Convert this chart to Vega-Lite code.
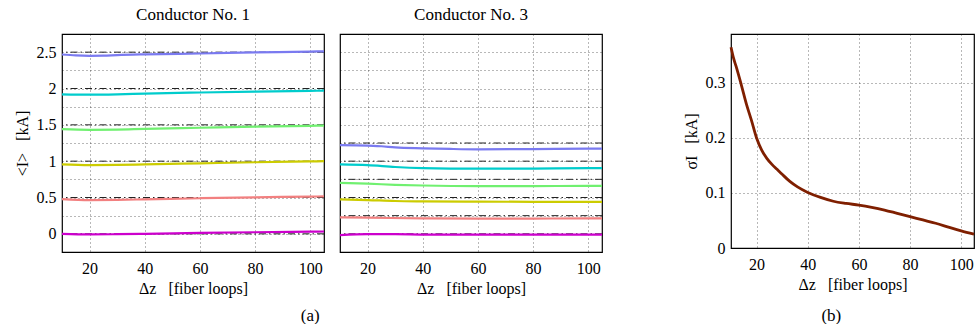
{
  "$schema": "https://vega.github.io/schema/vega-lite/v6.json",
  "background": "white",
  "padding": {"left": 13, "top": 5, "right": 0, "bottom": 0},
  "config": {
    "font": "Times New Roman, Liberation Serif, DejaVu Serif, serif",
    "view": {"stroke": "#000", "strokeWidth": 1.2},
    "style": {
      "guide-label": {"font": "Times New Roman, Liberation Serif, DejaVu Serif, serif", "fontSize": 16, "fill": "#000"},
      "guide-title": {"font": "Times New Roman, Liberation Serif, DejaVu Serif, serif", "fontSize": 16, "fill": "#000", "fontWeight": "normal"},
      "group-title": {"font": "Times New Roman, Liberation Serif, DejaVu Serif, serif", "fontSize": 17, "fill": "#000", "fontWeight": "normal"}
    },
    "axis": {
      "labelFont": "Times New Roman, Liberation Serif, DejaVu Serif, serif", "labelFontSize": 16, "labelColor": "#000",
      "titleFont": "Times New Roman, Liberation Serif, DejaVu Serif, serif", "titleFontSize": 16, "titleFontWeight": "normal", "titleColor": "#000",
      "domain": false, "ticks": false, "grid": true, "gridColor": "#000", "gridDash": [1, 3],
      "gridWidth": 0.8, "gridOpacity": 0.7, "labelPadding": 6, "titlePadding": 6, "labelOverlap": false
    },
    "axisX": {"labelPadding": 8, "titlePadding": 4},
    "title": {"font": "Times New Roman, Liberation Serif, DejaVu Serif, serif", "fontSize": 17, "fontWeight": "normal", "color": "#000"}
  },
  "datasets": {
    "series": [
      {"p": 1, "s": "L6", "x": 10, "y": 2.468}, {"p": 1, "s": "L6", "x": 15, "y": 2.455}, {"p": 1, "s": "L6", "x": 20, "y": 2.450}, {"p": 1, "s": "L6", "x": 25, "y": 2.452}, {"p": 1, "s": "L6", "x": 30, "y": 2.460}, {"p": 1, "s": "L6", "x": 40, "y": 2.470}, {"p": 1, "s": "L6", "x": 60, "y": 2.482}, {"p": 1, "s": "L6", "x": 80, "y": 2.496}, {"p": 1, "s": "L6", "x": 100, "y": 2.508}, {"p": 1, "s": "L6", "x": 105, "y": 2.512},
      {"p": 1, "s": "L5", "x": 10, "y": 1.920}, {"p": 1, "s": "L5", "x": 20, "y": 1.915}, {"p": 1, "s": "L5", "x": 30, "y": 1.920}, {"p": 1, "s": "L5", "x": 40, "y": 1.930}, {"p": 1, "s": "L5", "x": 60, "y": 1.945}, {"p": 1, "s": "L5", "x": 80, "y": 1.958}, {"p": 1, "s": "L5", "x": 100, "y": 1.968}, {"p": 1, "s": "L5", "x": 105, "y": 1.970},
      {"p": 1, "s": "L4", "x": 10, "y": 1.440}, {"p": 1, "s": "L4", "x": 20, "y": 1.432}, {"p": 1, "s": "L4", "x": 30, "y": 1.435}, {"p": 1, "s": "L4", "x": 40, "y": 1.445}, {"p": 1, "s": "L4", "x": 60, "y": 1.460}, {"p": 1, "s": "L4", "x": 80, "y": 1.475}, {"p": 1, "s": "L4", "x": 100, "y": 1.487}, {"p": 1, "s": "L4", "x": 105, "y": 1.490},
      {"p": 1, "s": "L3", "x": 10, "y": 0.955}, {"p": 1, "s": "L3", "x": 20, "y": 0.945}, {"p": 1, "s": "L3", "x": 30, "y": 0.948}, {"p": 1, "s": "L3", "x": 40, "y": 0.955}, {"p": 1, "s": "L3", "x": 60, "y": 0.970}, {"p": 1, "s": "L3", "x": 80, "y": 0.985}, {"p": 1, "s": "L3", "x": 100, "y": 0.997}, {"p": 1, "s": "L3", "x": 105, "y": 1.000},
      {"p": 1, "s": "L2", "x": 10, "y": 0.478}, {"p": 1, "s": "L2", "x": 20, "y": 0.465}, {"p": 1, "s": "L2", "x": 30, "y": 0.468}, {"p": 1, "s": "L2", "x": 40, "y": 0.475}, {"p": 1, "s": "L2", "x": 60, "y": 0.490}, {"p": 1, "s": "L2", "x": 80, "y": 0.503}, {"p": 1, "s": "L2", "x": 100, "y": 0.512}, {"p": 1, "s": "L2", "x": 105, "y": 0.515},
      {"p": 1, "s": "L1", "x": 10, "y": 0.000}, {"p": 1, "s": "L1", "x": 20, "y": -0.008}, {"p": 1, "s": "L1", "x": 30, "y": -0.005}, {"p": 1, "s": "L1", "x": 40, "y": 0.000}, {"p": 1, "s": "L1", "x": 60, "y": 0.012}, {"p": 1, "s": "L1", "x": 80, "y": 0.022}, {"p": 1, "s": "L1", "x": 100, "y": 0.030}, {"p": 1, "s": "L1", "x": 105, "y": 0.032},
      {"p": 3, "s": "L6", "x": 10, "y": 1.220}, {"p": 3, "s": "L6", "x": 20, "y": 1.215}, {"p": 3, "s": "L6", "x": 25, "y": 1.205}, {"p": 3, "s": "L6", "x": 30, "y": 1.190}, {"p": 3, "s": "L6", "x": 40, "y": 1.177}, {"p": 3, "s": "L6", "x": 50, "y": 1.168}, {"p": 3, "s": "L6", "x": 60, "y": 1.163}, {"p": 3, "s": "L6", "x": 80, "y": 1.166}, {"p": 3, "s": "L6", "x": 100, "y": 1.172}, {"p": 3, "s": "L6", "x": 105, "y": 1.172},
      {"p": 3, "s": "L5", "x": 10, "y": 0.955}, {"p": 3, "s": "L5", "x": 20, "y": 0.945}, {"p": 3, "s": "L5", "x": 30, "y": 0.920}, {"p": 3, "s": "L5", "x": 40, "y": 0.905}, {"p": 3, "s": "L5", "x": 60, "y": 0.896}, {"p": 3, "s": "L5", "x": 80, "y": 0.898}, {"p": 3, "s": "L5", "x": 100, "y": 0.903}, {"p": 3, "s": "L5", "x": 105, "y": 0.903},
      {"p": 3, "s": "L4", "x": 10, "y": 0.700}, {"p": 3, "s": "L4", "x": 20, "y": 0.690}, {"p": 3, "s": "L4", "x": 30, "y": 0.675}, {"p": 3, "s": "L4", "x": 40, "y": 0.665}, {"p": 3, "s": "L4", "x": 60, "y": 0.656}, {"p": 3, "s": "L4", "x": 80, "y": 0.657}, {"p": 3, "s": "L4", "x": 100, "y": 0.660}, {"p": 3, "s": "L4", "x": 105, "y": 0.660},
      {"p": 3, "s": "L3", "x": 10, "y": 0.475}, {"p": 3, "s": "L3", "x": 20, "y": 0.465}, {"p": 3, "s": "L3", "x": 30, "y": 0.452}, {"p": 3, "s": "L3", "x": 40, "y": 0.447}, {"p": 3, "s": "L3", "x": 60, "y": 0.443}, {"p": 3, "s": "L3", "x": 80, "y": 0.441}, {"p": 3, "s": "L3", "x": 100, "y": 0.440}, {"p": 3, "s": "L3", "x": 105, "y": 0.440},
      {"p": 3, "s": "L2", "x": 10, "y": 0.226}, {"p": 3, "s": "L2", "x": 20, "y": 0.222}, {"p": 3, "s": "L2", "x": 40, "y": 0.213}, {"p": 3, "s": "L2", "x": 60, "y": 0.208}, {"p": 3, "s": "L2", "x": 80, "y": 0.210}, {"p": 3, "s": "L2", "x": 100, "y": 0.212}, {"p": 3, "s": "L2", "x": 105, "y": 0.212},
      {"p": 3, "s": "L1", "x": 10, "y": -0.018}, {"p": 3, "s": "L1", "x": 20, "y": -0.005}, {"p": 3, "s": "L1", "x": 30, "y": -0.005}, {"p": 3, "s": "L1", "x": 40, "y": -0.010}, {"p": 3, "s": "L1", "x": 60, "y": -0.012}, {"p": 3, "s": "L1", "x": 80, "y": -0.012}, {"p": 3, "s": "L1", "x": 100, "y": -0.010}, {"p": 3, "s": "L1", "x": 105, "y": -0.010}
    ],
    "refs": [
      {"p": 1, "y": 0}, {"p": 1, "y": 0.5}, {"p": 1, "y": 1}, {"p": 1, "y": 1.5}, {"p": 1, "y": 2}, {"p": 1, "y": 2.5},
      {"p": 3, "y": 0}, {"p": 3, "y": 0.25}, {"p": 3, "y": 0.5}, {"p": 3, "y": 0.75}, {"p": 3, "y": 1}, {"p": 3, "y": 1.25}
    ],
    "sigma": [
      {"x": 10, "y": 0.365}, {"x": 11, "y": 0.345}, {"x": 12, "y": 0.330}, {"x": 14, "y": 0.297}, {"x": 16, "y": 0.262}, {"x": 18, "y": 0.232}, {"x": 20, "y": 0.200}, {"x": 22, "y": 0.178}, {"x": 24, "y": 0.163}, {"x": 26, "y": 0.152}, {"x": 28, "y": 0.143}, {"x": 30, "y": 0.134}, {"x": 33, "y": 0.121}, {"x": 36, "y": 0.111}, {"x": 40, "y": 0.101}, {"x": 45, "y": 0.092}, {"x": 50, "y": 0.085}, {"x": 55, "y": 0.081}, {"x": 60, "y": 0.078}, {"x": 65, "y": 0.074}, {"x": 70, "y": 0.069}, {"x": 75, "y": 0.063}, {"x": 80, "y": 0.057}, {"x": 85, "y": 0.051}, {"x": 90, "y": 0.045}, {"x": 95, "y": 0.038}, {"x": 100, "y": 0.031}, {"x": 105, "y": 0.025}
    ]
  },
  "spacing": 75,
  "hconcat": [
    {
      "title": {"text": "(a)", "orient": "bottom", "anchor": "middle", "offset": 11, "fontSize": 17},
      "spacing": 6,
      "hconcat": [
        {
          "title": {"text": "Conductor No. 1", "offset": 10},
          "width": 262, "height": 218,
          "encoding": {
            "y": {"field": "y", "type": "quantitative", "scale": {"domain": [-0.25, 2.75], "nice": false, "zero": false},
                  "axis": {"values": [0, 0.25, 0.5, 0.75, 1, 1.25, 1.5, 1.75, 2, 2.25, 2.5], "labelExpr": "(datum.value*2) % 1 == 0 ? format(datum.value, '~g') : ''", "title": "<I>\u00a0\u00a0\u00a0[kA]"}}
          },
          "layer": [
            {"data": {"name": "refs"}, "transform": [{"filter": "datum.p == 1"}],
             "mark": {"type": "rule", "strokeDash": [7, 3, 1.5, 3], "color": "#222", "strokeWidth": 1}},
            {"data": {"name": "series"}, "transform": [{"filter": "datum.p == 1"}],
             "mark": {"type": "line", "strokeWidth": 2.2, "interpolate": "monotone"},
             "encoding": {
               "x": {"field": "x", "type": "quantitative", "scale": {"domain": [10, 105], "nice": false, "zero": false}, "axis": {"values": [20, 40, 60, 80, 100], "title": "Δz\u00a0\u00a0\u00a0[fiber loops]"}},
               "color": {"field": "s", "type": "nominal", "scale": {"domain": ["L1", "L2", "L3", "L4", "L5", "L6"], "range": ["#cc00cc", "#f28080", "#cccc00", "#70f070", "#00cccc", "#7a7af0"]}, "legend": null}
             }}
          ]
        },
        {
          "title": {"text": "Conductor No. 3", "offset": 10},
          "width": 262, "height": 218,
          "encoding": {
            "y": {"field": "y", "type": "quantitative", "scale": {"domain": [-0.25, 2.75], "nice": false, "zero": false},
                  "axis": {"values": [0, 0.25, 0.5, 0.75, 1, 1.25, 1.5, 1.75, 2, 2.25, 2.5], "labels": false, "labelPadding": 0, "title": null}}
          },
          "layer": [
            {"data": {"name": "refs"}, "transform": [{"filter": "datum.p == 3"}],
             "mark": {"type": "rule", "strokeDash": [7, 3, 1.5, 3], "color": "#222", "strokeWidth": 1}},
            {"data": {"name": "series"}, "transform": [{"filter": "datum.p == 3"}],
             "mark": {"type": "line", "strokeWidth": 2.2, "interpolate": "monotone"},
             "encoding": {
               "x": {"field": "x", "type": "quantitative", "scale": {"domain": [10, 105], "nice": false, "zero": false}, "axis": {"values": [20, 40, 60, 80, 100], "title": "Δz\u00a0\u00a0\u00a0[fiber loops]"}},
               "color": {"field": "s", "type": "nominal", "scale": {"domain": ["L1", "L2", "L3", "L4", "L5", "L6"], "range": ["#cc00cc", "#f28080", "#cccc00", "#70f070", "#00cccc", "#7a7af0"]}, "legend": null}
             }}
          ]
        }
      ]
    },
    {
      "title": {"text": "(b)", "orient": "bottom", "anchor": "middle", "offset": 15, "fontSize": 17},
      "hconcat": [
        {
          "width": 243, "height": 214,
          "data": {"name": "sigma"},
          "mark": {"type": "line", "color": "#7f1f00", "strokeWidth": 2.8, "interpolate": "monotone"},
          "encoding": {
            "x": {"field": "x", "type": "quantitative", "scale": {"domain": [10, 105], "nice": false, "zero": false}, "axis": {"values": [20, 40, 60, 80, 100], "title": "Δz\u00a0\u00a0\u00a0[fiber loops]"}},
            "y": {"field": "y", "type": "quantitative", "scale": {"domain": [0, 0.389], "nice": false, "zero": false}, "axis": {"values": [0, 0.1, 0.2, 0.3], "format": "~g", "title": "σI\u00a0\u00a0\u00a0[kA]"}}
          }
        }
      ]
    }
  ]
}
